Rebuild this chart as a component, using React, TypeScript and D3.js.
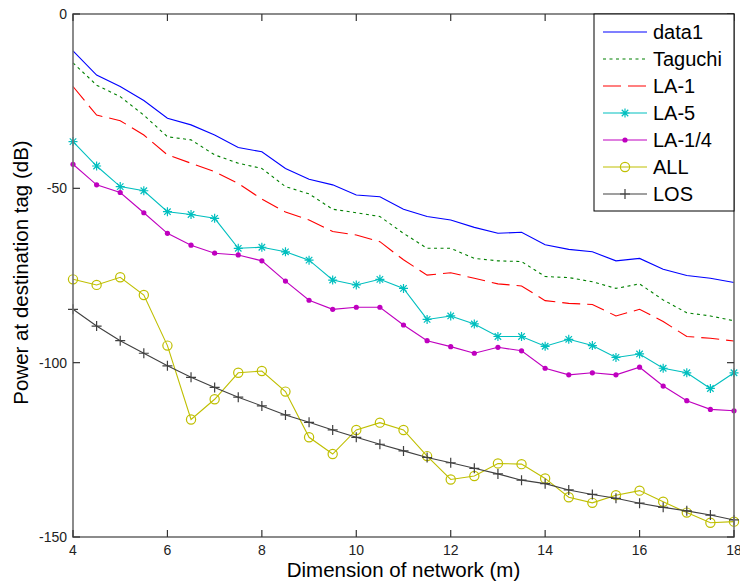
import React, { useEffect, useRef } from "react";
import * as d3 from "d3";

// network dimension (m)
const dims = [
  4, 4.5, 5, 5.5, 6, 6.5, 7, 7.5, 8, 8.5, 9, 9.5, 10, 10.5, 11, 11.5, 12, 12.5,
  13, 13.5, 14, 14.5, 15, 15.5, 16, 16.5, 17, 17.5, 18,
];

const data1 = [
  -10.6, -17.5, -20.8, -24.8, -29.9, -31.8, -34.7, -38.3, -39.5, -44.3, -47.4,
  -49.0, -51.9, -52.4, -56.0, -58.1, -59.1, -61.2, -62.9, -62.6, -66.2, -67.5,
  -68.2, -70.8, -70.1, -73.2, -75.0, -75.8, -77.0,
];
const taguchi = [
  -14.0, -20.4, -23.7, -29.0, -35.2, -36.1, -40.4, -42.8, -44.3, -49.5, -51.6,
  -56.0, -57.0, -58.1, -62.9, -67.2, -67.2, -70.1, -70.8, -71.0, -75.3, -75.6,
  -76.8, -78.7, -77.4, -82.0, -85.7, -86.6, -88.0,
];
const la1 = [
  -20.8, -29.0, -30.6, -34.7, -40.4, -42.8, -45.2, -48.6, -53.1, -56.8, -59.1,
  -62.4, -63.4, -65.3, -70.5, -74.9, -74.2, -75.8, -77.4, -78.0, -82.2, -83.0,
  -83.3, -86.6, -84.7, -88.2, -92.5, -93.0, -93.8,
];
const la5 = [
  -36.6, -43.6, -49.5, -50.7, -56.7, -57.5, -58.6, -67.2, -66.9, -68.2, -70.6,
  -76.3, -77.7, -76.1, -78.7, -87.6, -86.6, -88.9, -92.5, -92.5, -95.3, -93.3,
  -95.1, -98.5, -97.5, -101.6, -102.9, -107.4, -102.9,
];
const la14 = [
  -43.1, -49.0, -51.2, -57.0, -62.9, -66.3, -68.6, -69.1, -70.8, -76.6, -82.1,
  -84.7, -84.1, -84.1, -89.2, -93.7, -95.4, -97.3, -95.6, -96.6, -101.6, -103.5,
  -102.9, -103.5, -101.3, -106.7, -110.9, -113.4, -113.8,
];
const all = [
  -76.1, -77.7, -75.5, -80.6, -95.1, -116.3, -110.5, -102.9, -102.4, -108.3,
  -121.4, -126.2, -119.3, -117.2, -119.3, -126.8, -133.5, -132.5, -128.9,
  -129.1, -133.2, -138.6, -140.2, -138.0, -136.7, -139.9, -143.0, -145.9,
  -145.6,
];
const los = [
  -84.7, -89.5, -93.7, -97.3, -100.9, -104.2, -107.1, -109.9, -112.4, -115.0,
  -117.1, -119.3, -121.4, -123.4, -125.3, -127.2, -128.7, -130.3, -131.9,
  -133.7, -134.7, -136.5, -137.8, -138.9, -140.3, -141.5, -142.5, -143.7,
  -145.1,
];

const seriesNames = ["data1", "Taguchi", "LA-1", "LA-5", "LA-1/4", "ALL", "LOS"];
const seriesValues = [data1, taguchi, la1, la5, la14, all, los];
const seriesColors = ["#0000ff", "#008000", "#ff0000", "#00bfbf", "#bf00bf", "#bfbf00", "#404040"];
const seriesDash = [null, "3 3.5", "18 7", null, null, null, null];
const seriesMarker = [null, null, null, "star", "dot", "circle", "plus"];

const xTicks = [4, 6, 8, 10, 12, 14, 16, 18];
const yTicks = [0, -50, -100, -150];

const W = 740;
const H = 586;
const FONT = "Arial, 'Liberation Sans', Helvetica, sans-serif";

const App = () => {
  const svgRef = useRef<SVGSVGElement>(null);

  useEffect(() => {
    if (!svgRef.current) return;
    const svg = d3.select(svgRef.current);
    svg.selectAll("*").remove();

    const left = 73;
    const right = 734;
    const top = 14;
    const bottom = 537;

    const x = d3.scaleLinear().domain([4, 18]).range([left, right]);
    const y = d3.scaleLinear().domain([-150, 0]).range([bottom, top]);

    svg.append("rect").attr("width", W).attr("height", H).attr("fill", "#fff");

    // series lines
    const line = d3
      .line<number>()
      .x((d, i) => x(dims[i]))
      .y((d) => y(d));

    const drawMarker = (g: any, kind: string | null, cx: number, cy: number, color: string) => {
      if (kind === "star") {
        const r = 4.5;
        const k = r * 0.72;
        g.append("path")
          .attr("d", `M${cx - r},${cy}H${cx + r}M${cx},${cy - r}V${cy + r}M${cx - k},${cy - k}L${cx + k},${cy + k}M${cx - k},${cy + k}L${cx + k},${cy - k}`)
          .attr("stroke", color)
          .attr("stroke-width", 1.2)
          .attr("fill", "none");
      } else if (kind === "dot") {
        g.append("circle").attr("cx", cx).attr("cy", cy).attr("r", 2.6).attr("fill", color);
      } else if (kind === "circle") {
        g.append("circle")
          .attr("cx", cx)
          .attr("cy", cy)
          .attr("r", 4.6)
          .attr("fill", "none")
          .attr("stroke", color)
          .attr("stroke-width", 1.2);
      } else if (kind === "plus") {
        const r = 5;
        g.append("path")
          .attr("d", `M${cx - r},${cy}H${cx + r}M${cx},${cy - r}V${cy + r}`)
          .attr("stroke", color)
          .attr("stroke-width", 1.2)
          .attr("fill", "none");
      }
    };

    seriesValues.forEach((vals, si) => {
      const g = svg.append("g");
      g.append("path")
        .attr("d", line(vals))
        .attr("fill", "none")
        .attr("stroke", seriesColors[si])
        .attr("stroke-width", 1.1)
        .attr("stroke-dasharray", seriesDash[si]);
      if (seriesMarker[si]) {
        vals.forEach((v, i) => drawMarker(g, seriesMarker[si], x(dims[i]), y(v), seriesColors[si]));
      }
    });

    // axes box
    svg
      .append("rect")
      .attr("x", left)
      .attr("y", top)
      .attr("width", right - left)
      .attr("height", bottom - top)
      .attr("fill", "none")
      .attr("stroke", "#6e6e6e")
      .attr("stroke-width", 1.6);

    const tickLen = 7;
    const ticks = svg.append("g").attr("stroke", "#333").attr("stroke-width", 1.2);
    xTicks.forEach((t) => {
      ticks.append("line").attr("x1", x(t)).attr("x2", x(t)).attr("y1", bottom).attr("y2", bottom - tickLen);
      ticks.append("line").attr("x1", x(t)).attr("x2", x(t)).attr("y1", top).attr("y2", top + tickLen);
    });
    yTicks.forEach((t) => {
      ticks.append("line").attr("x1", left).attr("x2", left + tickLen).attr("y1", y(t)).attr("y2", y(t));
      ticks.append("line").attr("x1", right).attr("x2", right - tickLen).attr("y1", y(t)).attr("y2", y(t));
    });

    // tick labels
    svg
      .append("g")
      .selectAll("text")
      .data(xTicks)
      .enter()
      .append("text")
      .attr("x", (d) => x(d))
      .attr("y", 555)
      .attr("text-anchor", "middle")
      .attr("font-family", FONT)
      .attr("font-size", 14)
      .attr("fill", "#222")
      .text((d) => String(d));

    svg
      .append("g")
      .selectAll("text")
      .data(yTicks)
      .enter()
      .append("text")
      .attr("x", 67)
      .attr("y", (d) => y(d) + 5)
      .attr("text-anchor", "end")
      .attr("font-family", FONT)
      .attr("font-size", 14)
      .attr("fill", "#222")
      .text((d) => String(d));

    // axis titles
    svg
      .append("text")
      .attr("x", (left + right) / 2)
      .attr("y", 577)
      .attr("text-anchor", "middle")
      .attr("font-family", FONT)
      .attr("font-size", 20.5)
      .attr("fill", "#000")
      .text("Dimension of network (m)");

    svg
      .append("text")
      .attr("transform", `translate(28, ${(top + bottom) / 2 - 3}) rotate(-90)`)
      .attr("text-anchor", "middle")
      .attr("font-family", FONT)
      .attr("font-size", 20.5)
      .attr("fill", "#000")
      .text("Power at destination tag (dB)");

    // legend
    const lg = svg.append("g");
    lg.append("rect")
      .attr("x", 594)
      .attr("y", top)
      .attr("width", right - 594)
      .attr("height", 197)
      .attr("fill", "#fff")
      .attr("stroke", "#000")
      .attr("stroke-width", 1);

    seriesNames.forEach((name, si) => {
      const cy = 32 + si * 27;
      lg.append("line")
        .attr("x1", 603)
        .attr("x2", 647)
        .attr("y1", cy)
        .attr("y2", cy)
        .attr("stroke", seriesColors[si])
        .attr("stroke-width", 1.1)
        .attr("stroke-dasharray", seriesDash[si]);
      drawMarker(lg, seriesMarker[si], 625, cy, seriesColors[si]);
      lg.append("text")
        .attr("x", 653)
        .attr("y", cy + 7)
        .attr("font-family", FONT)
        .attr("font-size", 20)
        .attr("fill", "#000")
        .text(name);
    });
  }, []);

  return (
    <svg
      ref={svgRef}
      width={W}
      height={H}
      style={{ position: "absolute", left: 0, top: 0, display: "block" }}
    ></svg>
  );
};

export default App;
